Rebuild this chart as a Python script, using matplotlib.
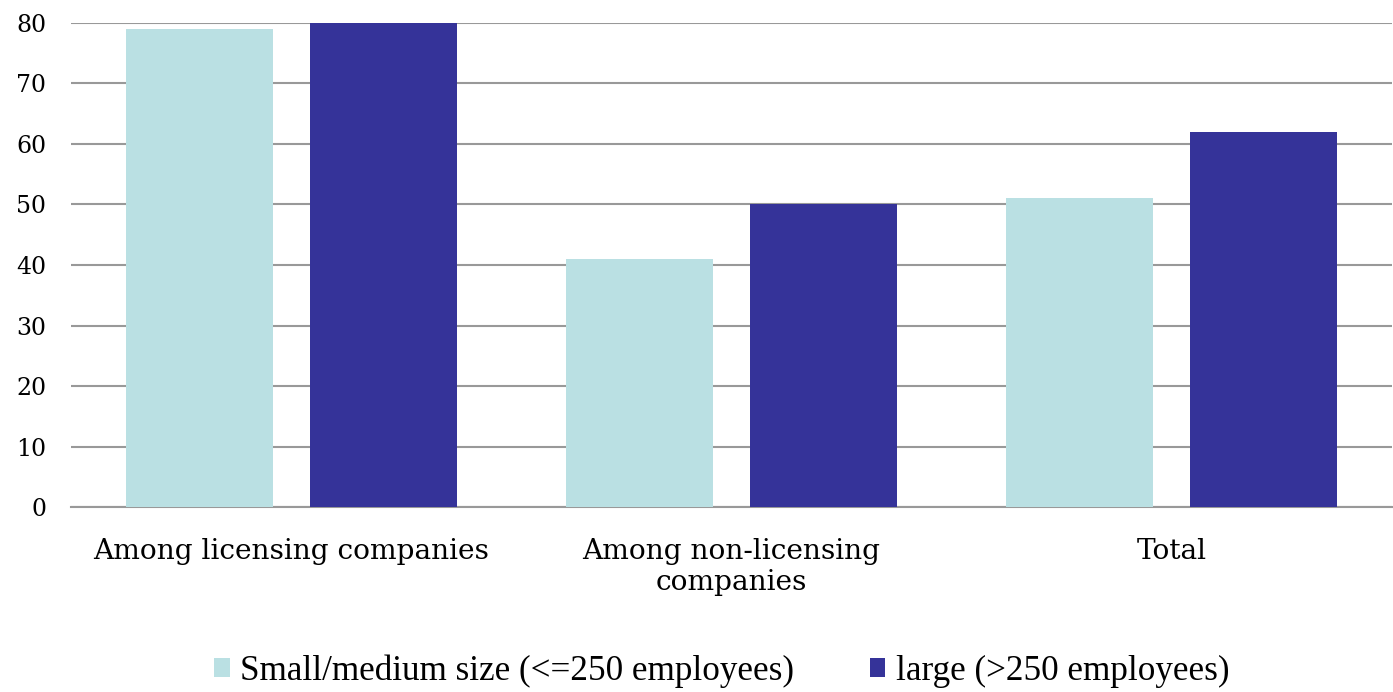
import matplotlib.pyplot as plt
import numpy as np

plt.rcParams['font.family'] = ['DejaVu Serif']

categories = ['Among licensing companies', 'Among non-licensing\ncompanies', 'Total']
small_medium = [79, 41, 51]
large = [80, 50, 62]
series_names = ['Small/medium size (<=250 employees)', 'large (>250 employees)']
yticks = [0, 10, 20, 30, 40, 50, 60, 70, 80]

x = np.arange(len(categories))
w = 0.334
off = 0.209

fig = plt.figure(figsize=(13.93, 6.92), dpi=100)
ax = fig.add_axes([0.0513, 0.2673, 0.9477, 0.6995])

ax.bar(x - off, small_medium, w, color='#bae0e3', label=series_names[0], zorder=3)
ax.bar(x + off, large, w, color='#353399', label=series_names[1], zorder=3)

ax.set_xlim(-0.5, 2.5)
ax.set_ylim(0, 80)
ax.set_yticks(yticks)
ax.yaxis.grid(True, color='#999999', linewidth=1.5, zorder=0)
ax.set_axisbelow(True)
for s in ['top', 'right', 'left']:
    ax.spines[s].set_visible(False)
ax.spines['bottom'].set_color('#999999')
ax.spines['bottom'].set_linewidth(1.5)

ax.set_xticks(x)
ax.set_xticklabels(categories, fontsize=20.2, linespacing=1.2)
ax.tick_params(axis='x', length=0, pad=22)
ax.tick_params(axis='y', length=0, pad=18, labelsize=17)

leg = fig.legend(loc='lower center', bbox_to_anchor=(0.518, -0.04), ncol=2, frameon=False,
                 prop={'family': 'Liberation Serif', 'size': 25.3},
                 handlelength=0.45, handleheight=0.45, handletextpad=0.3,
                 columnspacing=2.15)

fig.savefig('out.png', dpi=100)
